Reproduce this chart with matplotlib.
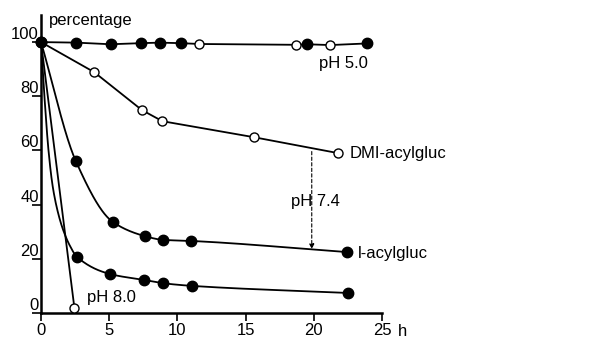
import numpy as np
import matplotlib
matplotlib.use("Agg")
import matplotlib.pyplot as plt

plt.rcParams['font.family'] = ['Liberation Sans', 'DejaVu Sans']

# ---- data ----
# pH 5.0 series (mixed open / filled markers)
ph5_x = [0, 2.6, 5.1, 7.3, 8.7, 10.3, 11.6, 18.7, 19.5, 21.2, 23.9]
ph5_y = [100, 99.8, 99.2, 99.6, 99.8, 99.6, 99.3, 99.0, 99.2, 98.9, 99.5]
ph5_filled = [True, True, True, True, True, True, False, False, True, False, True]

# DMI-acylgluc, pH 7.4 (open)
dmi_x = [0, 3.9, 7.4, 8.9, 15.6, 21.8]
dmi_y = [100, 88.9, 74.9, 70.8, 64.9, 59.0]

# l-acylgluc, pH 7.4 (filled)
lacyl_x = [0, 2.56, 5.27, 7.6, 8.94, 11.0, 22.4]
lacyl_y = [100, 56.0, 33.6, 28.4, 27.0, 26.6, 22.5]

# lower filled series
low_x = [0, 2.64, 5.05, 7.55, 8.94, 11.1, 22.5]
low_y = [100, 20.7, 14.4, 12.2, 11.0, 10.0, 7.4]
# path of the drawn curve near the origin for the lower series
low_path_x = [0, 0.25, 0.55, 0.85, 1.2, 1.6, 2.1]
low_path_y = [100, 80, 60, 47, 38, 31, 25]

# pH 8.0 (open)
ph8_x = [0, 2.45]
ph8_y = [100, 1.8]

# pH 7.4 arrow
arrow_x = 19.85
arrow_y_from = 59.6
arrow_y_to = 23.6

xticks = [0, 5, 10, 15, 20, 25]
yticks = [0, 20, 40, 60, 80, 100]


def pchip(x, y, xs):
    x = np.asarray(x, float); y = np.asarray(y, float)
    h = np.diff(x); d = np.diff(y) / h
    n = len(x)
    m = np.zeros(n)
    m[0] = d[0]; m[-1] = d[-1]
    for k in range(1, n - 1):
        if d[k - 1] * d[k] > 0:
            w1 = 2 * h[k] + h[k - 1]
            w2 = h[k] + 2 * h[k - 1]
            m[k] = (w1 + w2) / (w1 / d[k - 1] + w2 / d[k])
    ys = np.empty_like(xs)
    idx = np.clip(np.searchsorted(x, xs) - 1, 0, n - 2)
    for j, xv in enumerate(xs):
        k = idx[j]
        t = (xv - x[k]) / h[k]
        h00 = 2 * t**3 - 3 * t**2 + 1
        h10 = t**3 - 2 * t**2 + t
        h01 = -2 * t**3 + 3 * t**2
        h11 = t**3 - t**2
        ys[j] = h00 * y[k] + h10 * h[k] * m[k] + h01 * y[k + 1] + h11 * h[k] * m[k + 1]
    return ys


fig = plt.figure(figsize=(5.91, 3.38), dpi=100)
ax = fig.add_axes([41 / 591, 25 / 338, 341 / 591, 298 / 338])
ax.set_xlim(0, 25)
ax.set_ylim(0, 110)

lw = 1.3
ms_f = 7.5
ms_o = 6.5

# pH 5.0
ax.plot(ph5_x, ph5_y, color='black', lw=lw, zorder=2, clip_on=False)
for xv, yv, f in zip(ph5_x, ph5_y, ph5_filled):
    ax.plot([xv], [yv], 'o', ms=ms_f if f else ms_o,
            mfc='black' if f else 'white', mec='black', mew=1.0,
            zorder=4, clip_on=False)

# DMI-acylgluc
ax.plot(dmi_x, dmi_y, color='black', lw=lw, zorder=2)
ax.plot(dmi_x[1:], dmi_y[1:], 'o', ms=ms_o, mfc='white', mec='black', mew=1.0, zorder=4)

# l-acylgluc
xs = np.linspace(lacyl_x[0], lacyl_x[-1], 400)
ax.plot(xs, pchip(lacyl_x, lacyl_y, xs), color='black', lw=lw, zorder=2)
ax.plot(lacyl_x[1:], lacyl_y[1:], 'o', ms=ms_f, mfc='black', mec='black', zorder=4)

# lower series
px = low_path_x + low_x[1:]
py = low_path_y + low_y[1:]
xs = np.linspace(px[0], px[-1], 500)
ax.plot(xs, pchip(px, py, xs), color='black', lw=lw, zorder=2)
ax.plot(low_x[1:], low_y[1:], 'o', ms=ms_f, mfc='black', mec='black', zorder=4)

# pH 8.0
ax.plot(ph8_x, ph8_y, color='black', lw=lw, zorder=2)
ax.plot(ph8_x[1:], ph8_y[1:], 'o', ms=ms_o, mfc='white', mec='black', mew=1.0, zorder=4)

# origin point
ax.plot([0], [100], 'o', ms=ms_f, mfc='black', mec='black', zorder=5, clip_on=False)

# dashed arrow
ax.annotate('', xy=(arrow_x, arrow_y_to), xytext=(arrow_x, arrow_y_from),
            arrowprops=dict(arrowstyle='-|>', linestyle=(0, (3, 2)), lw=0.8,
                            color='black', mutation_scale=7, shrinkA=0, shrinkB=0),
            zorder=3)

fs = 12
ax.text(20.4, 92.2, 'pH 5.0', fontsize=fs, ha='left', va='center')
ax.text(22.6, 59.0, 'DMI-acylgluc', fontsize=fs, ha='left', va='center', clip_on=False)
ax.text(23.2, 22.0, 'l-acylgluc', fontsize=fs, ha='left', va='center', clip_on=False)
ax.text(18.3, 41.0, 'pH 7.4', fontsize=fs, ha='left', va='center')
ax.text(3.37, 5.9, 'pH 8.0', fontsize=fs, ha='left', va='center')
ax.text(0.59, 108, 'percentage', fontsize=fs, ha='left', va='center', clip_on=False)
ax.text(26.2, -3.9, 'h', fontsize=fs, ha='left', va='top', clip_on=False)

for s in ['top', 'right']:
    ax.spines[s].set_visible(False)
for s in ['left', 'bottom']:
    ax.spines[s].set_linewidth(1.8)

ax.set_xticks(xticks)
ax.set_xticklabels([str(v) for v in xticks])
ax.set_yticks(yticks)
ax.set_yticklabels([str(v) for v in yticks])
ax.tick_params(axis='x', direction='out', length=6, width=1.2, pad=1, labelsize=fs)
ax.tick_params(axis='y', direction='out', length=6.5, width=1.2, pad=-5, labelsize=fs)
for lab in ax.get_yticklabels():
    lab.set_va('bottom')

fig.savefig('out.png', dpi=100, facecolor='white')
